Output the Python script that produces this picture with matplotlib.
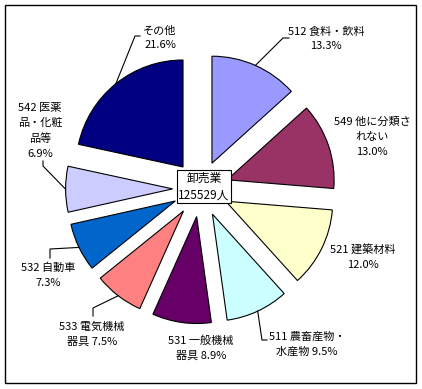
import numpy as np
import matplotlib.pyplot as plt
from matplotlib.patches import Rectangle

plt.rcParams['font.family'] = ['Noto Sans CJK JP', 'DejaVu Sans']

# data (clockwise from 12 o'clock)
names = ["512 食料・飲料", "549 他に分類さ\nれない", "521 建築材料", "511 農畜産物・\n水産物",
         "531 一般機械\n器具", "533 電気機械\n器具", "532 自動車", "542 医薬\n品・化粧\n品等", "その他"]
shares = [13.3, 13.0, 12.0, 9.5, 8.9, 7.5, 7.3, 6.9, 21.6]
pct_inline = [False, False, False, True, True, True, False, False, False]
colors = ["#9999FF", "#993366", "#FFFFCC", "#CCFFFF", "#660066",
          "#FF8080", "#0066CC", "#CCCCFF", "#000080"]
center_text = "卸売業\n125529人"

# layout in pixels (y measured from top)
W, H = 422, 389
cx, cy = 200.6, 188.8
radius = 107
gap = 28
text_pos = [(326, 39), (372, 137), (363, 257), (307, 344), (201, 348),
            (92, 334), (48, 275), (40, 131), (160, 38)]
# leader line: elbow then end (None = no leader)
leaders = [[(283, 38), (289, 38)], None, None, [(262, 340), (267, 340)], None,
           [(93, 308), (93, 316)], [(50, 249), (50, 258)], [(43, 166), (43, 161)],
           [(135, 36), (140, 36)]]

fig = plt.figure(figsize=(W / 100, H / 100), dpi=100)
ax = fig.add_axes([0, 0, 1, 1])

ax.pie(shares, colors=colors, startangle=90, counterclock=False,
       radius=radius, center=(cx, H - cy), explode=[gap] * len(shares),
       wedgeprops=dict(edgecolor='black', linewidth=0.8))
ax.set_xlim(0, W)
ax.set_ylim(0, H)
ax.set_aspect('auto')
ax.axis('off')

# labels and leader lines
cum = 0
for i, s in enumerate(shares):
    theta = np.radians(360 * (cum + s / 2) / 100)
    cum += s
    ax_x = cx + (radius + gap) * np.sin(theta)
    ax_y = cy - (radius + gap) * np.cos(theta)
    if leaders[i] is not None:
        pts = [(ax_x, ax_y)] + leaders[i]
        ax.plot([p[0] for p in pts], [H - p[1] for p in pts], color='black', lw=0.8)
    sep = " " if pct_inline[i] else "\n"
    label = names[i] + sep + "{:.1f}%".format(s)
    tx, ty = text_pos[i]
    ax.text(tx, H - ty, label, ha='center', va='center', fontsize=8,
            linespacing=1.6, multialignment='center')

# center box
ax.text(204, H - 186.5, center_text, ha='center', va='center', fontsize=8.5,
        linespacing=1.4,
        bbox=dict(boxstyle='square,pad=0.15', facecolor='white', edgecolor='black', lw=0.8))

# outer frame
ax.add_patch(Rectangle((5, H - 383), 411, 378, fill=False, edgecolor='black', lw=1))

fig.savefig("out.png", dpi=100)
